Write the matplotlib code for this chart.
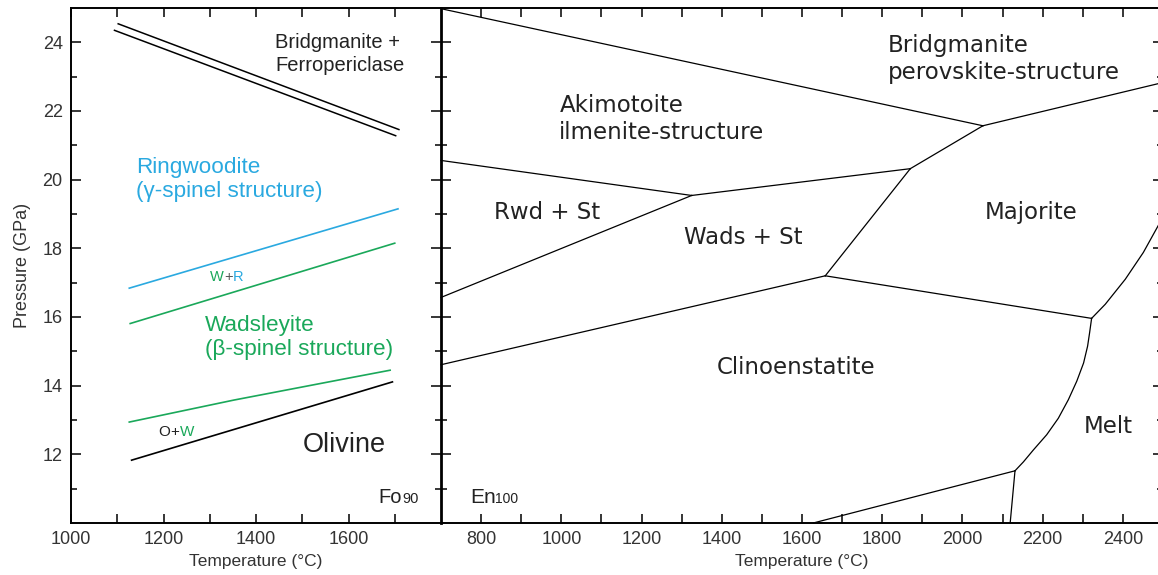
import matplotlib
matplotlib.use('Agg')
import matplotlib.pyplot as plt
from matplotlib.ticker import FixedLocator

plt.rcParams['font.family'] = ['Liberation Sans', 'DejaVu Sans']

blue = '#2aa9e0'
green = '#1aa85a'
ink = '#222222'
wide = ['DejaVu Sans']

# Fo90 panel (temperature C, pressure GPa)
fo_bdg_upper_T = [1102, 1709]
fo_bdg_upper_P = [24.54, 21.46]
fo_bdg_lower_T = [1094, 1702]
fo_bdg_lower_P = [24.35, 21.28]
fo_ring_T = [1126, 1707]
fo_ring_P = [16.84, 19.15]
fo_wr_T = [1128, 1700]
fo_wr_P = [15.81, 18.15]
fo_wad_T = [1126, 1352, 1604, 1690]
fo_wad_P = [12.94, 13.58, 14.23, 14.45]
fo_ol_T = [1131, 1695]
fo_ol_P = [11.83, 14.11]

# En100 panel phase boundaries
en_lines = {
    'aki_bdg': ([700, 2051], [24.98, 21.57]),
    'bdg_maj': ([2051, 2500], [21.57, 22.83]),
    'aki_maj': ([2051, 1870], [21.57, 20.32]),
    'aki_wad': ([1870, 1325], [20.32, 19.54]),
    'aki_rwd': ([1325, 700], [19.54, 20.56]),
    'rwd_wad': ([1325, 700], [19.54, 16.57]),
    'wad_cen': ([700, 1658], [14.61, 17.20]),
    'wad_maj': ([1658, 1870], [17.20, 20.32]),
    'maj_cen': ([1658, 2322], [17.20, 15.96]),
    'maj_melt': ([2322, 2356, 2406, 2451, 2488, 2500],
                 [15.96, 16.37, 17.10, 17.88, 18.66, 18.92]),
    'cen_melt': ([2322, 2317, 2312, 2302, 2285, 2264, 2239, 2210, 2177, 2152, 2131],
                 [15.96, 15.54, 15.15, 14.66, 14.13, 13.59, 13.05, 12.57, 12.13, 11.78, 11.52]),
    'cen_low': ([2131, 1628], [11.52, 10.0]),
    'low_melt': ([2131, 2119], [11.52, 10.0]),
}

fo_xticks = [1000, 1200, 1400, 1600]
fo_xminor = [1100, 1300, 1500, 1700]
en_xticks = [800, 1000, 1200, 1400, 1600, 1800, 2000, 2200, 2400]
en_xminor = [900, 1100, 1300, 1500, 1700, 1900, 2100, 2300]
p_ticks = [12, 14, 16, 18, 20, 22, 24]
p_minor = [11, 13, 15, 17, 19, 21, 23]

fig = plt.figure(figsize=(11.58, 5.75), dpi=100)
ax1 = fig.add_axes([71 / 1158, 52 / 575, 370 / 1158, 515 / 575])
ax2 = fig.add_axes([441 / 1158, 52 / 575, 722 / 1158, 515 / 575])

for ax in (ax1, ax2):
    ax.set_ylim(10, 25)
    for s in ax.spines.values():
        s.set_linewidth(1.4)
    ax.yaxis.set_major_locator(FixedLocator(p_ticks))
    ax.yaxis.set_minor_locator(FixedLocator(p_minor))
    ax.tick_params(axis='x', which='both', direction='in', top=True, length=6.5,
                   width=1.1, labelsize=13, labelcolor='#333333', pad=6)

ax1.set_xlim(1000, 1800)
ax1.xaxis.set_major_locator(FixedLocator(fo_xticks))
ax1.xaxis.set_minor_locator(FixedLocator(fo_xminor))
ax1.tick_params(axis='y', which='major', direction='in', length=7.5, width=1.1,
                labelsize=13, labelcolor='#333333', pad=6, right=False)
ax1.tick_params(axis='y', which='minor', direction='in', length=4, width=1.1, right=False)
ax1.spines['right'].set_visible(False)

ax2.set_xlim(700, 2500)
ax2.xaxis.set_major_locator(FixedLocator(en_xticks))
ax2.xaxis.set_minor_locator(FixedLocator(en_xminor))
ax2.tick_params(axis='y', which='major', direction='inout', length=14, width=1.1,
                labelleft=False, right=True)
ax2.tick_params(axis='y', which='minor', direction='inout', length=8.5, width=1.1, right=True)
ax2.spines['left'].set_linewidth(2)

ax1.set_ylabel('Pressure (GPa)', fontsize=13, color='#333333', labelpad=8)
ax1.set_xlabel('Temperature (°C)', fontsize=12.5, color='#333333', labelpad=4)
ax2.set_xlabel('Temperature (°C)', fontsize=12.5, color='#333333', labelpad=4)

# Fo90 boundaries
ax1.plot(fo_bdg_upper_T, fo_bdg_upper_P, color='black', lw=1.1)
ax1.plot(fo_bdg_lower_T, fo_bdg_lower_P, color='black', lw=1.1)
ax1.plot(fo_ring_T, fo_ring_P, color=blue, lw=1.2)
ax1.plot(fo_wr_T, fo_wr_P, color=green, lw=1.2)
ax1.plot(fo_wad_T, fo_wad_P, color=green, lw=1.2)
ax1.plot(fo_ol_T, fo_ol_P, color='black', lw=1.2)

ax1.text(1442, 23.67, 'Bridgmanite +\nFerropericlase', fontsize=14.5, color=ink,
         ha='left', va='center', linespacing=1.25)
ax1.text(1141, 20.0, 'Ringwoodite\n(γ-spinel structure)', fontsize=16.2, color=blue,
         ha='left', va='center', linespacing=1.15)
ax1.text(1290, 15.4, 'Wadsleyite\n(β-spinel structure)', fontsize=16.2, color=green,
         ha='left', va='center', linespacing=1.2)
ax1.text(1592, 12.27, 'Olivine', fontsize=19.5, color=ink, ha='center', va='center')


def tri_label(ax, x, y, parts, size):
    # three coloured pieces side by side, centred on the middle one
    (a, ca), (b, cb), (c, cc) = parts
    half = 0.584 * size / 2
    ax.annotate(b, (x, y), ha='center', va='center', fontsize=size, color=cb)
    ax.annotate(a, (x, y), xytext=(-half, 0), textcoords='offset points',
                ha='right', va='center', fontsize=size, color=ca)
    ax.annotate(c, (x, y), xytext=(half, 0), textcoords='offset points',
                ha='left', va='center', fontsize=size, color=cc)


tri_label(ax1, 1340, 17.17, [('W', green), ('+', '#555555'), ('R', blue)], 10.5)
tri_label(ax1, 1225, 12.66, [('O', ink), ('+', ink), ('W', green)], 11)


def comp_label(ax, x, y, big, small, bsize, ssize, wfrac):
    ax.annotate(big, (x, y), ha='left', va='baseline', fontsize=bsize, color=ink)
    ax.annotate(small, (x, y), xytext=(wfrac * bsize, 0), textcoords='offset points',
                ha='left', va='baseline', fontsize=ssize, color=ink)


comp_label(ax1, 1665, 10.58, 'Fo', '90', 14.5, 10.5, 1.167)
comp_label(ax2, 772, 10.58, 'En', '100', 15, 10, 1.223)

# En100 boundaries
for key, (t, p) in en_lines.items():
    ax2.plot(t, p, color='black', lw=0.9, clip_on=False)

ax2.text(1813, 23.52, 'Bridgmanite\nperovskite-structure', fontsize=16.5, family=wide,
         color=ink, ha='left', va='center', linespacing=1.2)
ax2.text(995, 21.76, 'Akimotoite\nilmenite-structure', fontsize=16.5, family=wide,
         color=ink, ha='left', va='center', linespacing=1.2)
ax2.text(832, 19.05, 'Rwd + St', fontsize=16.5, family=wide, color=ink, ha='left', va='center')
ax2.text(1306, 18.32, 'Wads + St', fontsize=16.5, family=wide, color=ink, ha='left', va='center')
ax2.text(2171, 19.05, 'Majorite', fontsize=16.5, family=wide, color=ink, ha='center', va='center')
ax2.text(1387, 14.52, 'Clinoenstatite', fontsize=16.5, family=wide, color=ink,
         ha='left', va='center')
ax2.text(2363, 12.81, 'Melt', fontsize=16.5, family=wide, color=ink, ha='center', va='center')

fig.savefig('out.png', dpi=100)
